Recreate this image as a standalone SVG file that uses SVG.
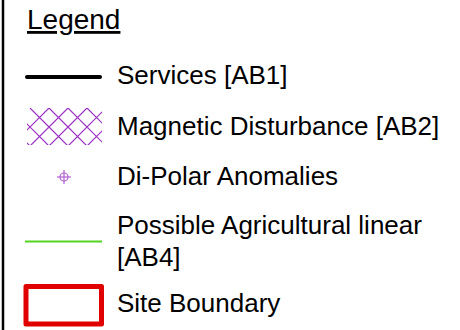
<svg xmlns="http://www.w3.org/2000/svg" width="460" height="330" viewBox="0 0 460 330">
  <defs>
    <style>
      .t { font-family: "Liberation Sans", Arial, sans-serif; font-size: 26px; fill: #000; }
      .h { font-family: "Liberation Sans", Arial, sans-serif; font-size: 28px; fill: #000; text-decoration: underline; }
      .hatch { stroke: #9a2fc4; stroke-width: 1.2; fill: none; }
    </style>
    <clipPath id="hc"><rect x="27" y="108" width="75" height="37"/></clipPath>
  </defs>
  <rect width="460" height="330" fill="#fff"/>
  <line x1="3" y1="0" x2="3" y2="330" stroke="#000" stroke-width="2.5"/>
  <g id="title"><text class="h" x="27" y="29">Legend</text></g>
  <g id="services">
    <line x1="27" y1="77" x2="100" y2="77" stroke="#000" stroke-width="4" stroke-linecap="round"/>
    <text class="t" x="117" y="84">Services [AB1]</text>
  </g>
  <g id="magnetic">
    <g clip-path="url(#hc)" class="hatch">
      <path d="M11 108 l37.5 37.5 M30 108 l37.5 37.5 M49 108 l37.5 37.5 M68 108 l37.5 37.5 M87 108 l37.5 37.5 M-8 108 l37.5 37.5 M49 108 l-37.5 37.5 M68 108 l-37.5 37.5 M87 108 l-37.5 37.5 M106 108 l-37.5 37.5 M125 108 l-37.5 37.5 M144 108 l-37.5 37.5"/>
    </g>
    <text class="t" x="117" y="135">Magnetic Disturbance [AB2]</text>
  </g>
  <g id="dipolar">
    <circle cx="64" cy="177" r="4" fill="none" stroke="#b060d0" stroke-width="1.2"/>
    <line x1="57" y1="177" x2="71" y2="177" stroke="#b060d0" stroke-width="1.2"/>
    <line x1="64" y1="170" x2="64" y2="184" stroke="#b060d0" stroke-width="1.2"/>
    <text class="t" x="117" y="185">Di-Polar Anomalies</text>
  </g>
  <g id="agri">
    <line x1="25" y1="241.5" x2="102" y2="241.5" stroke="#55d420" stroke-width="2"/>
    <text class="t" x="117" y="234">Possible Agricultural linear</text>
    <text class="t" x="117" y="266">[AB4]</text>
  </g>
  <g id="site">
    <rect x="26" y="286.5" width="75.5" height="37.5" fill="none" stroke="#e00000" stroke-width="5" stroke-linejoin="round"/>
    <text class="t" x="117" y="312">Site Boundary</text>
  </g>
</svg>
